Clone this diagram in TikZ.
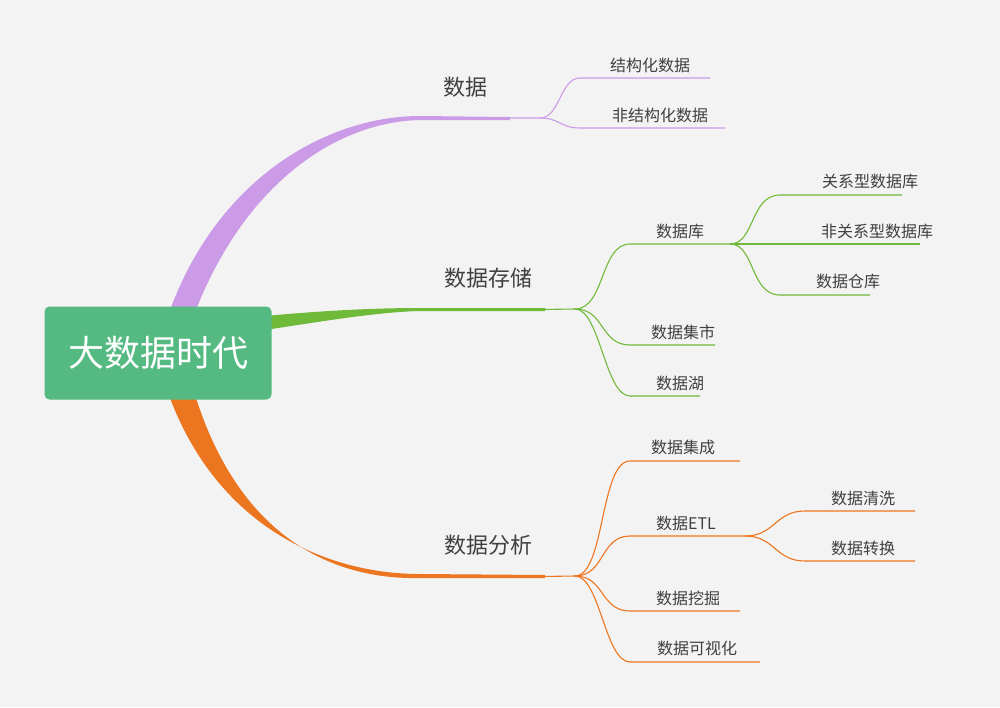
\documentclass[tikz,border=0pt]{standalone}
\usepackage{fontspec}
\setmainfont{Noto Sans CJK SC}
\usetikzlibrary{positioning}
\definecolor{bgc}{RGB}{244,243,244}
\definecolor{rootc}{RGB}{84,186,130}
\definecolor{datac}{RGB}{204,155,232}
\definecolor{storec}{RGB}{112,186,58}
\definecolor{anac}{RGB}{236,118,32}
\tikzset{
  leaf/.style={anchor=south,inner sep=2pt,font=\fontsize{16}{16}\selectfont,text=black!75},
  topic/.style={anchor=south,inner sep=2pt,font=\fontsize{22}{22}\selectfont,text=black!75},
  thin/.style={line width=1.1pt}
}

\begin{document}
\begin{tikzpicture}[x=1pt,y=-1pt]
\fill[bgc] (0,0) rectangle (1000,707);
\useasboundingbox (0,0) rectangle (1000,707);

% main branches
\fill[datac] (170,310) .. controls (220,175) and (330,116) .. (420,116) -- (510,117) -- (510,120) -- (420,120) .. controls (335,122) and (245,185) .. (196,310) -- cycle;
\fill[storec] (265,316) .. controls (330,310) and (380,308) .. (420,308) -- (545,308) -- (545,311) -- (420,311) .. controls (380,312) and (330,320) .. (265,330) -- cycle;
\fill[anac] (170,398) .. controls (220,530) and (330,574) .. (420,574) -- (545,575) -- (545,578) -- (420,578) .. controls (330,580) and (240,535) .. (196,398) -- cycle;

\node[fill=rootc,rounded corners=5pt,minimum width=227pt,minimum height=93pt,text=white,font=\fontsize{36}{36}\selectfont]
(root) at (158,353) {大数据时代};

% topic labels
\node[topic] (data) at (465,100) {数据};
\node[topic] (store) at (488,291) {数据存储};
\node[topic] (ana) at (488,558) {数据分析};

% hubs
\coordinate (hdata) at (510,118);
\coordinate (hstore) at (575,309);
\coordinate (hana) at (575,576);
\coordinate (hdb) at (730,244);
\coordinate (hetl) at (745,536);
\draw[storec,thin] (540,309.5) -- (hstore);
\draw[anac,thin] (540,576.5) -- (hana);

% 数据
\draw[datac,thin] (hdata) -- (540,118) .. controls (560,118) and (560,78) .. (580,78) -- (710,78);
\draw[datac,thin] (540,118) .. controls (560,118) and (560,128) .. (580,128) -- (725,128);
\node[leaf] (d1) at (650,75) {结构化数据};
\node[leaf] (d2) at (660,125) {非结构化数据};

% 数据存储
\draw[storec,thin] (hstore) .. controls (605,309) and (600,244) .. (630,244) -- (hdb);
\draw[storec,thin] (hstore) .. controls (605,309) and (600,345) .. (630,345) -- (715,345);
\draw[storec,thin] (hstore) .. controls (600,309) and (605,396) .. (630,396) -- (700,396);
\node[leaf] (s1) at (680,241) {数据库};
\node[leaf] (s2) at (683,342) {数据集市};
\node[leaf] (s3) at (680,393) {数据湖};
\draw[storec,thin] (hdb) .. controls (755,244) and (750,195) .. (780,195) -- (902,195);
\draw[storec,thin] (hdb) -- (920,244);
\draw[storec,thin] (hdb) .. controls (755,244) and (750,295) .. (780,295) -- (870,295);
\node[leaf] (db1) at (870,191) {关系型数据库};
\node[leaf] (db2) at (877,241) {非关系型数据库};
\node[leaf] (db3) at (848,291) {数据仓库};

% 数据分析
\draw[anac,thin] (hana) .. controls (605,576) and (600,461) .. (630,461) -- (740,461);
\draw[anac,thin] (hana) .. controls (605,576) and (600,536) .. (630,536) -- (hetl);
\draw[anac,thin] (hana) .. controls (605,576) and (600,611) .. (630,611) -- (740,611);
\draw[anac,thin] (hana) .. controls (600,576) and (605,662) .. (630,662) -- (760,662);
\node[leaf] (a1) at (683,457) {数据集成};
\node[leaf] (a2) at (686,533) {数据ETL};
\node[leaf] (a3) at (688,608) {数据挖掘};
\node[leaf] (a4) at (697,658) {数据可视化};
\draw[anac,thin] (hetl) .. controls (775,536) and (775,511) .. (805,511) -- (915,511);
\draw[anac,thin] (hetl) .. controls (775,536) and (775,561) .. (805,561) -- (915,561);
\node[leaf] (e1) at (863,508) {数据清洗};
\node[leaf] (e2) at (863,558) {数据转换};
\end{tikzpicture}
\end{document}
